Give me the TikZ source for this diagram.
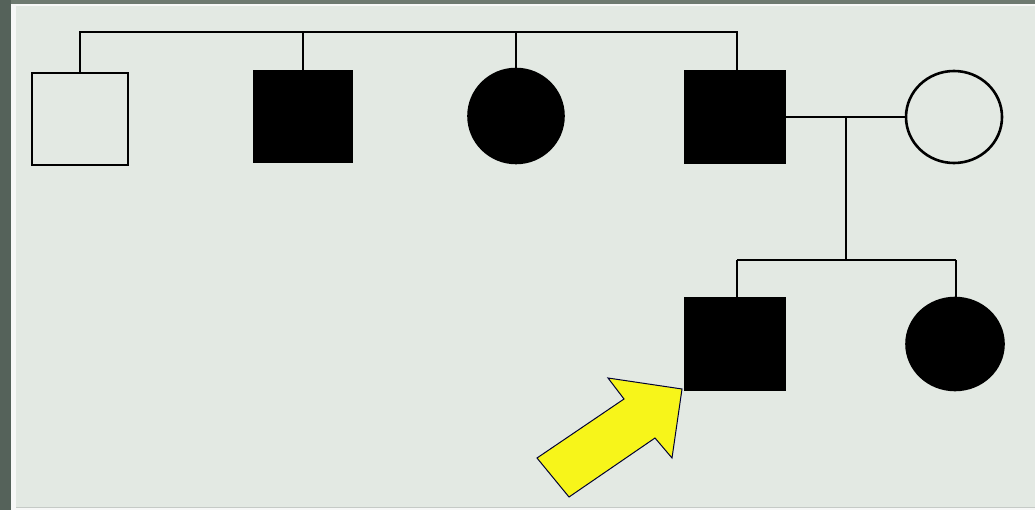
\documentclass[tikz,border=0pt]{standalone}
\usepackage{tikz}
\usetikzlibrary{shapes.geometric}
\definecolor{bgmain}{HTML}{E3E9E3}
\definecolor{frameL}{HTML}{55625A}
\definecolor{frameT}{HTML}{6E7A70}
\definecolor{arrowY}{HTML}{F7F51A}
\begin{document}
\begin{tikzpicture}[x=1pt,y=-1pt,
  line width=1.6pt,
  male/.style={draw=black,rectangle,minimum width=96pt,minimum height=92pt,inner sep=0pt},
  female/.style={draw=black,ellipse,minimum width=96pt,minimum height=93pt,inner sep=0pt},
  aff/.style={fill=black},
  unaff/.style={fill=none},
  link/.style={draw=black,line width=1.6pt}]
\useasboundingbox (0,0) rectangle (1035,510);
\fill[frameT] (0,0) rectangle (1035,510);
\fill[frameL] (0,0) rectangle (11,510);
\fill[white!70!bgmain] (11,4) rectangle (1035,510);
\fill[bgmain] (16,6) rectangle (1035,507);
\fill[white!60!frameT] (16,507) rectangle (1035,508);
% generation I
\node[male,unaff] (m1) at (80,119) {};
\node[male,aff,minimum width=98pt,minimum height=91pt] (m2) at (303,116.5) {};
\node[female,aff,minimum height=95pt] (f1) at (516,116) {};
\node[male,aff,minimum width=100pt] (m3) at (735,117) {};
\node[female,unaff,line width=2.6pt,minimum height=92pt] (f2) at (954,117) {};
% generation II
\node[male,aff,minimum width=100pt] (m4) at (735,344) {};
\node[female,aff,minimum width=98pt] (f3) at (955,344) {};
% sibship top
\coordinate (t1) at (80,32);
\coordinate (t4) at (737,32);
\draw[link] (m1.north) -- (t1) -- (t4) -- (t4 |- m3.north);
\draw[link] (m2.north |- t1) -- (m2.north);
\draw[link] (f1.north |- t1) -- (f1.north);
% marriage
\draw[link] (m3.east) -- (f2.west);
\coordinate (mm) at (846,117);
\coordinate (sb) at (846,260);
\draw[link] (mm) -- (sb);
\coordinate (s1) at (737,260);
\coordinate (s2) at (956,260);
\draw[link] (s1) -- (s2);
\draw[link] (s1) -- (s1 |- m4.north);
\draw[link] (s2) -- (s2 |- f3.north);
% arrow
\draw[fill=arrowY,draw=black!80!blue,line width=1pt,line join=miter]
  (537,458) -- (624,399) -- (608,378) -- (682,389) -- (672,458) -- (655,438) -- (569,497) -- cycle;
\end{tikzpicture}
\end{document}
